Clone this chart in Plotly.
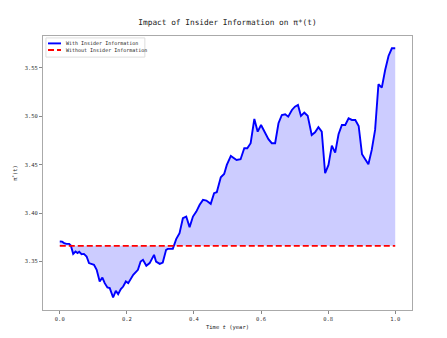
import plotly.graph_objects as go

t = [0.000, 0.007, 0.013, 0.020, 0.028, 0.033, 0.040, 0.047, 0.053, 0.058,
     0.065, 0.072, 0.080, 0.087, 0.096, 0.102, 0.110, 0.119, 0.127, 0.134,
     0.142, 0.149, 0.159, 0.167, 0.174, 0.182, 0.189, 0.197, 0.204, 0.212,
     0.219, 0.233, 0.241, 0.248, 0.258, 0.268, 0.281, 0.287, 0.298, 0.307,
     0.317, 0.322, 0.337, 0.347, 0.357, 0.367, 0.377, 0.387, 0.397, 0.407,
     0.417, 0.427, 0.437, 0.450, 0.460, 0.468, 0.480, 0.490, 0.498, 0.510,
     0.517, 0.527, 0.539, 0.550, 0.559, 0.569, 0.580, 0.590, 0.600, 0.610,
     0.622, 0.632, 0.642, 0.652, 0.662, 0.672, 0.681, 0.692, 0.701, 0.710,
     0.719, 0.729, 0.739, 0.751, 0.761, 0.771, 0.781, 0.791, 0.801, 0.811,
     0.821, 0.831, 0.841, 0.851, 0.861, 0.871, 0.881, 0.891, 0.901, 0.910,
     0.920, 0.930, 0.940, 0.950, 0.960, 0.970, 0.980, 0.990, 1.000]

pi_insider = [3.3706, 3.3705, 3.3690, 3.3682, 3.3682, 3.3665, 3.3579, 3.3603, 3.3587, 3.3600,
              3.3576, 3.3579, 3.3552, 3.3484, 3.3473, 3.3466, 3.3414, 3.3294, 3.3335, 3.3277,
              3.3232, 3.3226, 3.3129, 3.3198, 3.3164, 3.3215, 3.3242, 3.3294, 3.3277, 3.3329,
              3.3363, 3.3414, 3.3500, 3.3518, 3.3456, 3.3484, 3.3569, 3.3500, 3.3476, 3.3490,
              3.3621, 3.3631, 3.3631, 3.3731, 3.3793, 3.3947, 3.3964, 3.3855, 3.3964, 3.4015,
              3.4085, 3.4136, 3.4129, 3.4095, 3.4205, 3.4215, 3.4370, 3.4404, 3.4497, 3.4590,
              3.4576, 3.4548, 3.4556, 3.4669, 3.4669, 3.4721, 3.4971, 3.4840, 3.4909, 3.4834,
              3.4762, 3.4721, 3.4721, 3.4927, 3.5012, 3.5020, 3.4995, 3.5064, 3.5098, 3.5115,
              3.5002, 3.5036, 3.5005, 3.4806, 3.4834, 3.4886, 3.4840, 3.4411, 3.4497, 3.4696,
              3.4624, 3.4813, 3.4909, 3.4909, 3.4978, 3.4961, 3.4961, 3.4899, 3.4607, 3.4559,
              3.4504, 3.4652, 3.4858, 3.5329, 3.5294, 3.5476, 3.5621, 3.5700, 3.5700]

pi_no_insider = 3.3662
baseline = [pi_no_insider] * len(t)

series_names = ["With Insider Information", "Without Insider Information"]
x_ticks = [0.0, 0.2, 0.4, 0.6, 0.8, 1.0]
x_tick_labels = ["0.0", "0.2", "0.4", "0.6", "0.8", "1.0"]
y_ticks = [3.35, 3.40, 3.45, 3.50, 3.55]
y_tick_labels = ["3.35", "3.40", "3.45", "3.50", "3.55"]

FONT = "DejaVu Sans Mono"
BLUE = "#0000ff"
RED = "#ff0000"
DASH = "6px,3px"

fig = go.Figure()
# invisible baseline for the fill
fig.add_trace(go.Scatter(x=t, y=baseline, mode="lines", line=dict(width=0, color="rgba(0,0,0,0)"),
                         showlegend=False, hoverinfo="skip"))
# shaded area between the two strategies
fig.add_trace(go.Scatter(x=t, y=pi_insider, mode="lines", line=dict(width=0, color="rgba(0,0,0,0)"),
                         fill="tonexty", fillcolor="rgba(0,0,255,0.2)",
                         showlegend=False, hoverinfo="skip"))
fig.add_trace(go.Scatter(x=t, y=pi_insider, mode="lines", name=series_names[0],
                         line=dict(color=BLUE, width=1.9), showlegend=False))
fig.add_trace(go.Scatter(x=t, y=baseline, mode="lines", name=series_names[1],
                         line=dict(color=RED, width=1.9, dash=DASH), showlegend=False))

axis_common = dict(showline=True, mirror=True, linecolor="#aaaaaa", linewidth=1,
                   ticks="outside", ticklen=3, tickcolor="#888888", showgrid=False,
                   zeroline=False, automargin=False,
                   tickfont=dict(family=FONT, size=5.5, color="#333333"))

# compact legend (matplotlib-style) drawn as shapes + text in paper coordinates
shapes = [
    dict(type="rect", xref="paper", yref="paper", x0=0.008, x1=0.276, y0=0.923, y1=0.993,
         line=dict(color="#dddddd", width=1), fillcolor="rgba(255,255,255,0.8)", layer="above"),
    dict(type="line", xref="paper", yref="paper", x0=0.0136, x1=0.0488, y0=0.973, y1=0.973,
         line=dict(color=BLUE, width=1.9), layer="above"),
    dict(type="line", xref="paper", yref="paper", x0=0.0136, x1=0.0488, y0=0.949, y1=0.949,
         line=dict(color=RED, width=1.9, dash=DASH), layer="above"),
]
annotations = [
    dict(text=series_names[0], xref="paper", yref="paper", x=0.057, y=0.973,
         xanchor="left", yanchor="middle", showarrow=False,
         font=dict(family=FONT, size=5, color="#222222")),
    dict(text=series_names[1], xref="paper", yref="paper", x=0.057, y=0.949,
         xanchor="left", yanchor="middle", showarrow=False,
         font=dict(family=FONT, size=5, color="#222222")),
]

# the page body has an 8px margin, so the figure is drawn at (8, 8)
W, H = 439, 330
fig.update_layout(
    template="none",
    width=W, height=H,
    margin=dict(l=35, r=35, t=28, b=28, autoexpand=False),
    paper_bgcolor="white", plot_bgcolor="white",
    title=dict(text="Impact of Insider Information on π*(t)", x=0.5, xref="paper",
               y=1 - 14 / H, yanchor="middle",
               font=dict(family=FONT, size=7.8, color="#222222")),
    xaxis=dict(range=[-0.05, 1.05], tickvals=x_ticks, ticktext=x_tick_labels,
               title=dict(text="Time <i>t</i> (year)", standoff=4,
                          font=dict(family=FONT, size=5.5, color="#222222")),
               **axis_common),
    yaxis=dict(range=[3.3000, 3.5827], tickvals=y_ticks, ticktext=y_tick_labels,
               title=dict(text="π<sup>*</sup>(t)", standoff=6,
                          font=dict(family=FONT, size=5.5, color="#222222")),
               **axis_common),
    shapes=shapes,
    annotations=annotations,
    showlegend=False,
)

fig.write_html("out.html")
